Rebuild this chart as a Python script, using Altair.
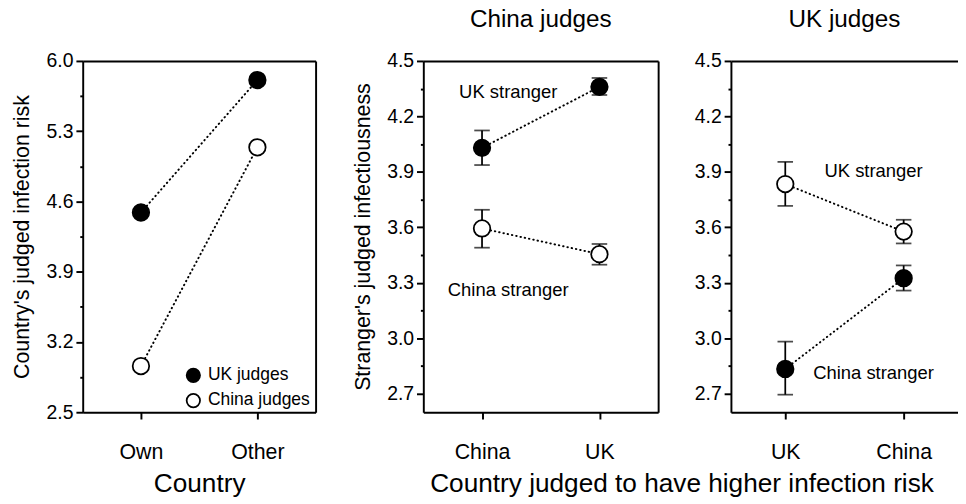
import altair as alt
import pandas as pd

FONT = "Liberation Sans"

# ---------------- data ----------------
p1_countries = ["Own", "Other"]
p1_uk_judges = [4.49, 5.81]
p1_china_judges = [2.96, 5.14]
p1_ticks = [2.5, 2.85, 3.2, 3.55, 3.9, 4.25, 4.6, 4.95, 5.3, 5.65, 6.0]

# China judges panel (x: country judged to have higher risk)
p2_x = ["China", "UK"]
p2_uk_mean = [4.03, 4.36]
p2_uk_lo = [3.937, 4.316]
p2_uk_hi = [4.124, 4.408]
p2_cn_mean = [3.594, 3.455]
p2_cn_lo = [3.49, 3.398]
p2_cn_hi = [3.695, 3.51]

# UK judges panel
p3_x = ["UK", "China"]
p3_uk_mean = [3.834, 3.577]
p3_uk_lo = [3.716, 3.513]
p3_uk_hi = [3.954, 3.641]
p3_cn_mean = [2.834, 3.325]
p3_cn_lo = [2.695, 3.258]
p3_cn_hi = [2.982, 3.394]

p23_ticks = [2.7, 2.85, 3.0, 3.15, 3.3, 3.45, 3.6, 3.75, 3.9, 4.05, 4.2, 4.35, 4.5]

p2_label_text = ["UK stranger", "China stranger"]
p2_label_x = ["China", "China"]
p2_label_y = [4.333, 3.258]
p3_label_text = ["UK stranger", "China stranger"]
p3_label_x = ["China", "China"]
p3_label_y = [3.905, 2.81]

# ---------------- tables ----------------
df1 = pd.DataFrame({
    "country": p1_countries * 2,
    "value": p1_uk_judges + p1_china_judges,
    "group": ["UK judges"] * 2 + ["China judges"] * 2,
})

def stranger_df(xs, uk_m, uk_lo, uk_hi, cn_m, cn_lo, cn_hi, filled_group):
    d = pd.DataFrame({
        "x": xs * 2,
        "mean": uk_m + cn_m,
        "lo": uk_lo + cn_lo,
        "hi": uk_hi + cn_hi,
        "stranger": ["UK stranger"] * 2 + ["China stranger"] * 2,
    })
    d["kind"] = ["filled" if s == filled_group else "open" for s in d["stranger"]]
    return d

df2 = stranger_df(p2_x, p2_uk_mean, p2_uk_lo, p2_uk_hi, p2_cn_mean, p2_cn_lo, p2_cn_hi, "UK stranger")
df3 = stranger_df(p3_x, p3_uk_mean, p3_uk_lo, p3_uk_hi, p3_cn_mean, p3_cn_lo, p3_cn_hi, "China stranger")
lab2 = pd.DataFrame({"x": p2_label_x, "y": p2_label_y, "text": p2_label_text})
lab3 = pd.DataFrame({"x": p3_label_x, "y": p3_label_y, "text": p3_label_text})

H = 362
LINE = dict(color="black", strokeWidth=2, strokeDash=[0.5, 4], strokeCap="round")
PT_SIZE = 290
XLAB = dict(labelAngle=0, labelFontSize=22, labelPadding=24, tickSize=7, domainWidth=2)
FRAME_X = alt.Axis(orient="top", labels=False, ticks=False, title=None, domainWidth=2)
FRAME_Y = alt.Axis(orient="right", labels=False, ticks=False, title=None, domainWidth=2)
HIDDEN_Y = alt.Axis(orient="right", labels=False, ticks=False, title=None, domain=False)


def y_axis(start, step, ticks, title):
    minor = f"round((datum.value-{start})/{step}) % 2 == 1"
    kw = dict(
        values=ticks,
        labelExpr=f"{minor} ? '' : format(datum.value, '.1f')",
        tickSize={"condition": {"test": minor, "value": 3}, "value": 7},
        labelFontSize=20, labelPadding=3, domainWidth=2, orient="left",
    )
    if title:
        kw.update(title=title, titleFontSize=22, titleFontWeight="normal", titlePadding=13)
    else:
        kw.update(title=" ", titleFontSize=1, titlePadding=0)
    return alt.Axis(**kw)


# ---------------- panel 1 ----------------
x1sc = alt.Scale(type="point", padding=0.5)
y1sc = alt.Scale(domain=[2.5, 6.0], nice=False, zero=False)
x1 = alt.X("country:N", sort=p1_countries, scale=x1sc,
           axis=alt.Axis(title="Country", titleFontSize=27, titleFontWeight="normal",
                         titlePadding=9, **XLAB))
y1 = alt.Y("value:Q", scale=y1sc, axis=y_axis(2.5, 0.35, p1_ticks, "Country's judged infection risk"))
base1 = alt.Chart(df1)
line1 = base1.mark_line(**LINE).encode(x=x1, y=y1, detail="group:N")
pts1 = base1.mark_point(filled=True, size=PT_SIZE, stroke="black", strokeWidth=1.8, opacity=1).encode(
    x=x1, y=y1,
    fill=alt.Fill("group:N", scale=alt.Scale(domain=["UK judges", "China judges"], range=["black", "white"]),
                  legend=alt.Legend(title=None, orient="none", legendX=105, legendY=315,
                                    symbolType="circle", symbolSize=190,
                                    symbolStrokeColor="black", symbolStrokeWidth=1.8, labelFontSize=18,
                                    labelFont=FONT, rowPadding=4, padding=0, labelOffset=6)),
)
frame1 = base1.mark_point(opacity=0).encode(
    x=alt.X("country:N", sort=p1_countries, scale=x1sc, axis=FRAME_X),
    y=alt.Y("value:Q", scale=y1sc, axis=FRAME_Y),
)
panel1 = alt.layer(alt.layer(line1, pts1), frame1).resolve_axis(x="independent", y="independent").properties(
    width=240, height=H)


# ---------------- panels 2, 3 ----------------
def stranger_panel(df, lab, xs, pad, width, title, ytitle, dx, last=False):
    xsc = alt.Scale(type="point", padding=pad)
    ysc = alt.Scale(domain=[2.6, 4.5], nice=False, zero=False)
    xaxis = alt.Axis(title=None, **XLAB)
    yaxis = y_axis(2.7, 0.15, p23_ticks, ytitle)
    x = alt.X("x:N", sort=xs, scale=xsc, axis=xaxis)

    def Y(f):
        return alt.Y(f, scale=ysc, axis=yaxis)

    b = alt.Chart(df)
    rule = b.mark_rule(color="black", strokeWidth=1.8).encode(x=x, y=Y("lo:Q"), y2="hi:Q")
    cap_lo = b.mark_tick(color="black", size=16, thickness=1.8).encode(x=x, y=Y("lo:Q"))
    cap_hi = b.mark_tick(color="black", size=16, thickness=1.8).encode(x=x, y=Y("hi:Q"))
    line = b.mark_line(**LINE).encode(x=x, y=Y("mean:Q"), detail="stranger:N")
    pts = b.mark_point(filled=True, size=PT_SIZE, stroke="black", strokeWidth=1.8, opacity=1).encode(
        x=x, y=Y("mean:Q"),
        fill=alt.condition(alt.datum.kind == "filled", alt.value("black"), alt.value("white")),
    )
    txt = alt.Chart(lab).mark_text(font=FONT, fontSize=19, color="black", dx=dx, baseline="middle").encode(
        x=x, y=Y("y:Q"), text="text:N")
    main = alt.layer(rule, cap_lo, cap_hi, line, pts, txt)
    xtop = alt.X("x:N", sort=xs, scale=xsc, axis=FRAME_X)
    frame = b.mark_point(opacity=0).encode(
        x=xtop, y=alt.Y("mean:Q", scale=ysc, axis=HIDDEN_Y if last else FRAME_Y))
    layered = alt.layer(main, frame).resolve_axis(x="independent", y="independent")
    return layered.properties(
        width=width, height=H,
        title=alt.TitleParams(title, fontSize=25, fontWeight="normal", font=FONT, offset=20))


panel2 = stranger_panel(df2, lab2, p2_x, 0.5, 242, "China judges", "Stranger's judged infectiousness", 27)
panel3 = stranger_panel(df3, lab3, p3_x, 0.459, 234, "UK judges", None, -31, last=True)

right = alt.hconcat(panel2, panel3, spacing=36).properties(
    title=alt.TitleParams("Country judged to have higher infection risk", orient="bottom", anchor="middle",
                          fontSize=27, fontWeight="normal", font=FONT, dx=28, offset=9))

chart = alt.hconcat(panel1, right, spacing=37).resolve_legend(fill="independent").properties(
    padding={"left": 3, "top": -8, "right": 0, "bottom": 0}
).configure_view(strokeWidth=0, strokeOpacity=0).configure_axis(
    domainColor="black", domainWidth=2, tickColor="black", tickWidth=2, grid=False,
    labelFont=FONT, titleFont=FONT, labelColor="black", titleColor="black",
).configure_text(font=FONT).configure_title(font=FONT, color="black")

chart.save("out.html", embed_options={"renderer": "svg", "actions": False})
